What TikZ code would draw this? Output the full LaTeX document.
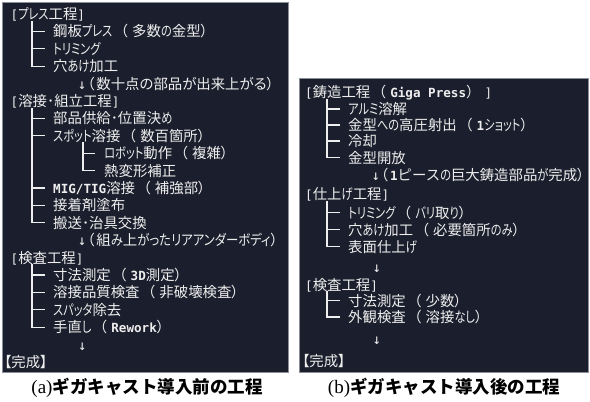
\documentclass[tikz,border=0pt]{standalone}
\usepackage{fontspec}
\setmainfont{Noto Sans CJK JP}
\newfontfamily\jpp{Noto Sans CJK JP}[RawFeature=+palt]
\newfontfamily\jpf{Noto Sans CJK JP}
\newfontfamily\kn{Noto Sans CJK JP}[RawFeature=+palt, FakeStretch=0.78]
\newfontfamily\knb{Noto Sans CJK JP}[RawFeature=+palt, FakeStretch=0.86]
\newfontfamily\mono{DejaVu Sans Mono}
\newfontfamily\serifcap{Liberation Serif}
\newcommand\kana[1]{{\kn #1}}
\newcommand\kanb[1]{{\knb #1}}
\newcommand\kanc[1]{{\jpp #1}}
\newcommand\lp{\hspace{1.5pt}{\jpf （}\hspace{4pt}}
\newcommand\lpa{\hspace{1pt}{\jpp （}\hspace{2pt}}
\newcommand\rp{{\jpp ）}}
\newcommand\rpf{{\jpf ）}}
\newcommand\dt{{\jpf ･}}
\newcommand\lat[1]{{\mono\bfseries\fontsize{12.6}{14}\selectfont #1}}
\newcommand\brk[1]{{\mono\fontsize{12.6}{14}\selectfont #1}}
\newcommand\dn{{\mono\fontsize{14}{14}\selectfont ↓}}
\newcommand\done{{\jpp 【}完成{\jpp 】}}
\definecolor{panel}{HTML}{1B1E2C}
\definecolor{ink}{HTML}{EEEEEE}
\definecolor{frame}{HTML}{8A8E98}
\tikzset{
  t/.style={anchor=west, inner sep=0pt, text=ink, text height=12.5pt, text depth=1.5pt,
    font=\jpf\fontsize{14.4}{17}\selectfont},
  tree/.style={draw=ink, line width=1.2pt, line join=miter, line cap=rect},
  panelbox/.style={fill=panel, draw=frame, line width=0.8pt},
  captext/.style={anchor=center, inner sep=0pt, text=black, font=\jpf\bfseries\fontsize{17.5}{20}\selectfont}
}
\begin{document}
\begin{tikzpicture}[x=1pt,y=-1pt]
\useasboundingbox (0,0) rectangle (590,402);
\fill[white] (0,0) rectangle (590,402);
\draw[panelbox] (2,2) rectangle (288,372);
\draw[panelbox] (299,78) rectangle (588,372);

% ---- left panel ----
\node[t] (h1) at (10.5,14) {\brk{[}\kana{プレス}工程\brk{]}};
\node[t] (a1) at (53,31.4) {鋼板\kana{プレス}\lp 多数\kana{の}金型\rp};
\node[t] (a2) at (53,48.8) {\kana{トリミング}};
\node[t] (a3) at (53,66.2) {穴\kana{あけ}加工};
\node[t] (ar1) at (77.6,83.6) {\dn\lpa 数十点\kanc{の}部品\kanc{が}出来上\kanc{がる}\rp};
\node[t] (h2) at (10.5,101) {\brk{[}溶接\dt 組立工程\brk{]}};
\node[t] (b1) at (53,118.4) {部品供給\dt 位置決\kana{め}};
\node[t] (b2) at (53,135.8) {\kana{スポット}溶接\lp 数百箇所\rp};
\node[t] (b3) at (104,153.2) {\kana{ロボット}動作\lp 複雑\rp};
\node[t] (b4) at (104,170.6) {熱変形補正};
\node[t] (b5) at (53,188) {\lat{MIG/TIG}溶接\lp 補強部\rp};
\node[t] (b6) at (53,205.4) {接着剤塗布};
\node[t] (b7) at (53,222.8) {搬送\dt 治具交換};
\node[t] (ar2) at (77.6,240.2) {\dn\lpa 組\kanb{み}上\kanb{がったリアアンダーボディ}\rp};
\node[t] (h3) at (10.5,257.6) {\brk{[}検査工程\brk{]}};
\node[t] (c1) at (53,275) {寸法測定\lp\lat{3D}測定\rp};
\node[t] (c2) at (53,292.4) {溶接品質検査\lp 非破壊検査\rp};
\node[t] (c3) at (53,309.8) {\kana{スパッタ}除去};
\node[t] (c4) at (53,327.2) {手直\kana{し}\lp\lat{Rework}\rp};
\node[t] (ar3) at (77.8,344.6) {\dn};
\node[t] (h4) at (4,362) {\done};

\draw[tree] ([xshift=-21pt]a1.west |- h1.south) |- ([xshift=-9pt]a3.west);
\foreach \n in {a1,a2} \draw[tree] ([xshift=-21pt]\n.west) -- ([xshift=-9pt]\n.west);
\draw[tree] ([xshift=-21pt]b1.west |- h2.south) |- ([xshift=-9pt]b7.west);
\foreach \n in {b1,b2,b5,b6} \draw[tree] ([xshift=-21pt]\n.west) -- ([xshift=-9pt]\n.west);
\draw[tree] ([xshift=-21pt]b3.west |- b2.south) |- ([xshift=-10pt]b4.west);
\draw[tree] ([xshift=-21pt]b3.west) -- ([xshift=-10pt]b3.west);
\draw[tree] ([xshift=-21pt]c1.west |- h3.south) |- ([xshift=-9pt]c4.west);
\foreach \n in {c1,c2,c3} \draw[tree] ([xshift=-21pt]\n.west) -- ([xshift=-9pt]\n.west);

% ---- right panel ----
\node[t] (h5) at (305,92) {\brk{[}鋳造工程\lp\lat{Giga Press}\rpf\hspace{4pt}\brk{]}};
\node[t] (d1) at (348,109) {\kana{アルミ}溶解};
\node[t] (d2) at (348,125) {金型\kana{への}高圧射出\lp\lat{1}\kana{ショット}\rp};
\node[t] (d3) at (348,141) {冷却};
\node[t] (d4) at (348,157.5) {金型開放};
\node[t] (ar4) at (371.3,175) {\dn\lpa\lat{1}ピース\kana{の}巨大鋳造部品\kana{が}完成\rp};
\node[t] (h6) at (305,194) {\brk{[}仕上\kana{げ}工程\brk{]}};
\node[t] (e1) at (348,212.5) {\kana{トリミング}\lp\kana{バリ}取\kana{り}\rp};
\node[t] (e2) at (348,229.5) {穴\kana{あけ}加工\lp 必要箇所\kana{のみ}\rp};
\node[t] (e3) at (348,246.5) {表面仕上\kana{げ}};
\node[t] (ar5) at (372.5,266.5) {\dn};
\node[t] (h7) at (305,284.5) {\brk{[}検査工程\brk{]}};
\node[t] (f1) at (348,300.5) {寸法測定\lp 少数\rp};
\node[t] (f2) at (348,317) {外観検査\lp 溶接\kana{なし}\rp};
\node[t] (ar6) at (372.5,339) {\dn};
\node[t] (h8) at (302,361) {\done};

\draw[tree] ([xshift=-21pt]d1.west |- h5.south) |- ([xshift=-9pt]d4.west);
\foreach \n in {d1,d2,d3} \draw[tree] ([xshift=-21pt]\n.west) -- ([xshift=-9pt]\n.west);
\draw[tree] ([xshift=-21pt]e1.west |- h6.south) |- ([xshift=-9pt]e3.west);
\foreach \n in {e1,e2} \draw[tree] ([xshift=-21pt]\n.west) -- ([xshift=-9pt]\n.west);
\draw[tree] ([xshift=-21pt]f1.west |- h7.south) |- ([xshift=-9pt]f2.west);
\draw[tree] ([xshift=-21pt]f1.west) -- ([xshift=-9pt]f1.west);

% ---- captions ----
\node[captext] (capa) at (147,388) {{\serifcap\mdseries\fontsize{19}{20}\selectfont (a)}ギガキャスト導入前の工程};
\node[captext] (capb) at (444,388) {{\serifcap\mdseries\fontsize{19}{20}\selectfont (b)}ギガキャスト導入後の工程};
\end{tikzpicture}
\end{document}
